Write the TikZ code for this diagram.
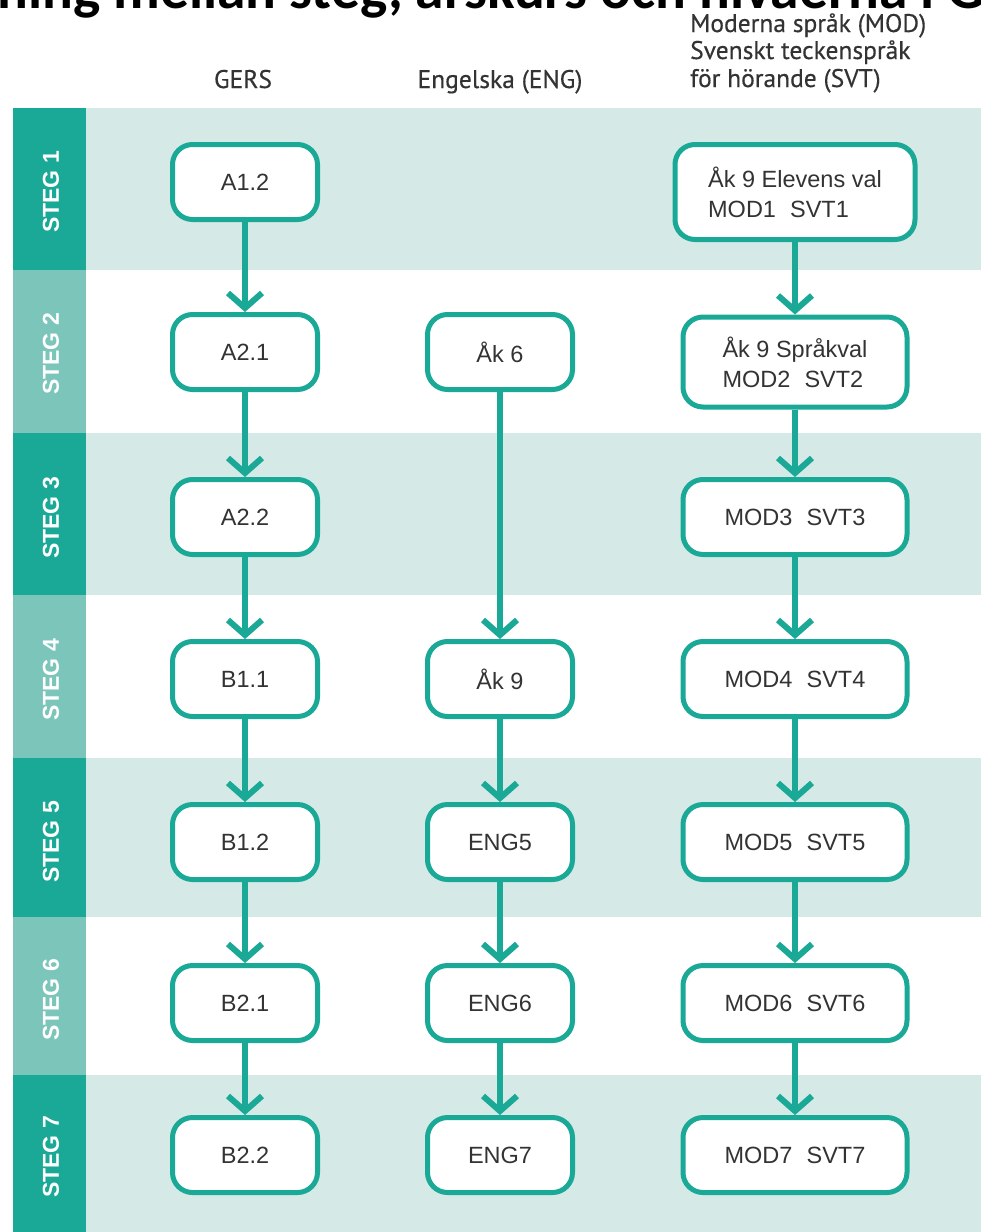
\documentclass[tikz,border=0pt]{standalone}
\usepackage{fontspec}
\setmainfont{Liberation Sans}
\newfontfamily\titlefont{Carlito}
\newfontfamily\headfont[FakeBold=0.35]{PT Sans}
\usetikzlibrary{arrows.meta}
\definecolor{tealA}{HTML}{1AA897}
\definecolor{tealB}{HTML}{7CC5BB}
\definecolor{bandc}{HTML}{D5EAE6}
\definecolor{txt}{HTML}{333333}
\newcommand{\sgap}{\hspace{0.6em}}
\begin{document}
\begin{tikzpicture}[x=1pt,y=-1pt,
  lvl/.style={draw=tealA, line width=5pt, rounded corners=20pt, fill=white,
    minimum width=145pt, minimum height=75pt, inner sep=0pt,
    font=\fontsize{23.5}{30}\selectfont, text=txt},
  wide/.style={lvl, minimum width=224pt},
  flow/.style={draw=tealA, line width=6pt, -{Straight Barb[length=15pt,width=34pt]}},
  steglabel/.style={rotate=90, text=white, font=\bfseries\fontsize{23}{23}\selectfont},
  head/.style={font=\headfont\fontsize{25.5}{28}\selectfont, text=txt, inner sep=0pt}
]
\useasboundingbox (0,0) rectangle (981,1232);
\clip (0,0) rectangle (981,1232);
\fill[white] (0,0) rectangle (981,1232);
% title (cut off at the top and right)
\node[anchor=base west, inner sep=0pt, font=\titlefont\bfseries\fontsize{57.5}{58}\selectfont] (title) at (-3,8) {ning mellan steg, årskurs och nivåerna i GE};
% headers
\node[head, anchor=base] (hg) at (243,88) {GERS};
\node[head, anchor=base] (he) at (500,88) {Engelska (ENG)};
\node[head, anchor=base west] (hm1) at (690,32) {Moderna språk (MOD)};
\node[head, anchor=base west] (hm2) at (690,59) {Svenskt teckenspråk};
\node[head, anchor=base west] (hm3) at (690,87) {för hörande (SVT)};
% bands
\fill[bandc] (13,108) rectangle (981,270);
\fill[bandc] (13,433) rectangle (981,595);
\fill[bandc] (13,758) rectangle (981,917);
\fill[bandc] (13,1075) rectangle (981,1232);
\fill[tealA] (13,108) rectangle (86,270);
\fill[tealB] (13,270) rectangle (86,433);
\fill[tealA] (13,433) rectangle (86,595);
\fill[tealB] (13,595) rectangle (86,758);
\fill[tealA] (13,758) rectangle (86,917);
\fill[tealB] (13,917) rectangle (86,1075);
\fill[tealA] (13,1075) rectangle (86,1232);
\node[steglabel] (s1) at (51,192) {STEG 1};
\node[steglabel] (s2) at (51,354) {STEG 2};
\node[steglabel] (s3) at (51,518) {STEG 3};
\node[steglabel] (s4) at (51,680) {STEG 4};
\node[steglabel] (s5) at (51,842) {STEG 5};
\node[steglabel] (s6) at (51,1000) {STEG 6};
\node[steglabel] (s7) at (51,1157) {STEG 7};
% GERS
\node[lvl] (g1) at (245,182) {A1.2};
\node[lvl] (g2) at (245,352) {A2.1};
\node[lvl] (g3) at (245,517) {A2.2};
\node[lvl] (g4) at (245,679) {B1.1};
\node[lvl] (g5) at (245,842) {B1.2};
\node[lvl] (g6) at (245,1003) {B2.1};
\node[lvl] (g7) at (245,1155) {B2.2};
% ENG
\node[lvl] (e2) at (500,352) {Åk 6};
\node[lvl] (e4) at (500,679) {Åk 9};
\node[lvl] (e5) at (500,842) {ENG5};
\node[lvl] (e6) at (500,1003) {ENG6};
\node[lvl] (e7) at (500,1155) {ENG7};
% MOD
\node[wide, minimum width=240pt, minimum height=95pt, align=left] (m1) at (795,192) {Åk 9 Elevens val\\MOD1\sgap SVT1};
\node[wide, minimum height=90pt, align=left] (m2) at (795,362) {Åk 9 Språkval\\MOD2\sgap SVT2};
\node[wide] (m3) at (795,517) {MOD3\sgap SVT3};
\node[wide] (m4) at (795,679) {MOD4\sgap SVT4};
\node[wide] (m5) at (795,842) {MOD5\sgap SVT5};
\node[wide] (m6) at (795,1003) {MOD6\sgap SVT6};
\node[wide] (m7) at (795,1155) {MOD7\sgap SVT7};
% connectors
\draw[flow] (g1.south) -- (g2.north);
\draw[flow] (g2.south) -- (g3.north);
\draw[flow] (g3.south) -- (g4.north);
\draw[flow] (g4.south) -- (g5.north);
\draw[flow] (g5.south) -- (g6.north);
\draw[flow] (g6.south) -- (g7.north);
\draw[flow] (e2.south) -- (e4.north);
\draw[flow] (e4.south) -- (e5.north);
\draw[flow] (e5.south) -- (e6.north);
\draw[flow] (e6.south) -- (e7.north);
\draw[flow] (m1.south) -- (m2.north);
\draw[flow] (m2.south) -- (m3.north);
\draw[flow] (m3.south) -- (m4.north);
\draw[flow] (m4.south) -- (m5.north);
\draw[flow] (m5.south) -- (m6.north);
\draw[flow] (m6.south) -- (m7.north);
\end{tikzpicture}
\end{document}
